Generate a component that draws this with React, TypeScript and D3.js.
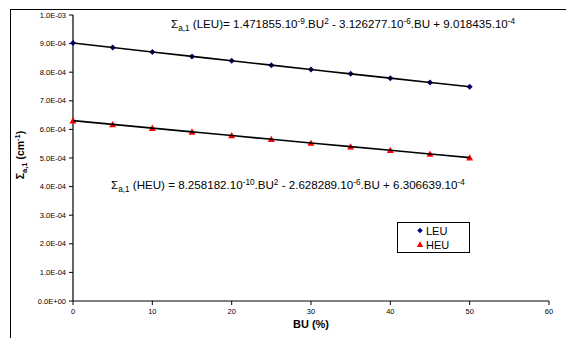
import React from "react";
import * as d3 from "d3";

const BU = [0, 5, 10, 15, 20, 25, 30, 35, 40, 45, 50];
const LEU = [9.0184e-4, 8.8625e-4, 8.7073e-4, 8.5528e-4, 8.3991e-4, 8.2461e-4, 8.0938e-4, 7.9423e-4, 7.7915e-4, 7.6414e-4, 7.4921e-4];
const HEU = [6.3066e-4, 6.1754e-4, 6.0446e-4, 5.9143e-4, 5.7843e-4, 5.6547e-4, 5.5256e-4, 5.3969e-4, 5.2685e-4, 5.1406e-4, 5.0131e-4];
const X_TICKS = [0, 10, 20, 30, 40, 50, 60];
const Y_TICKS = [0, 1e-4, 2e-4, 3e-4, 4e-4, 5e-4, 6e-4, 7e-4, 8e-4, 9e-4, 1e-3];
const Y_TICK_LABELS = ["0.0E+00", "1.0E-04", "2.0E-04", "3.0E-04", "4.0E-04", "5.0E-04", "6.0E-04", "7.0E-04", "8.0E-04", "9.0E-04", "1.0E-03"];
const SERIES_NAMES = ["LEU", "HEU"];

const FONT = "'Liberation Sans', Arial, sans-serif";

export default function App() {
  const W = 566, H = 338;
  const x = d3.scaleLinear().domain([0, 60]).range([73, 549]);
  const y = d3.scaleLinear().domain([0, 1e-3]).range([301, 15]);
  const line = d3.line<number>().x((_, i) => x(BU[i])).y((d) => y(d)).curve(d3.curveMonotoneX);
  const diamond = (cx: number, cy: number, r = 3) => `M${cx},${cy - r}L${cx + r},${cy}L${cx},${cy + r}L${cx - r},${cy}Z`;
  const tri = (cx: number, cy: number, r = 3.5) => `M${cx},${cy - r}L${cx + r},${cy + r * 0.8}L${cx - r},${cy + r * 0.8}Z`;
  const EF = 11.6, SF = 8.2;

  return (
    <svg width={W} height={H} style={{ position: "absolute", left: 0, top: 0 }} fontFamily={FONT}>
      <rect x={0} y={0} width={W} height={H} fill="#fff" />
      <rect x={10.5} y={9.5} width={W + 10} height={H + 10} fill="none" stroke="#000" strokeWidth={1} />
      {/* axes */}
      <line x1={x(0)} x2={x(0)} y1={y(1e-3)} y2={y(0)} stroke="#000" strokeWidth={1.2} />
      <line x1={x(0)} x2={x(60)} y1={y(0)} y2={y(0)} stroke="#000" strokeWidth={1.2} />
      {Y_TICKS.map((t, i) => (
        <g key={"y" + i}>
          <line x1={x(0) - 4} x2={x(0)} y1={y(t)} y2={y(t)} stroke="#000" />
          <text x={66} y={y(t)} dy="0.35em" fontSize={7.5} textAnchor="end" fill="#000">{Y_TICK_LABELS[i]}</text>
        </g>
      ))}
      {X_TICKS.map((t) => (
        <g key={"x" + t}>
          <line x1={x(t)} x2={x(t)} y1={y(0)} y2={y(0) + 4} stroke="#000" />
          <text x={x(t)} y={314} fontSize={7.5} textAnchor="middle" fill="#000">{t}</text>
        </g>
      ))}
      {/* markers */}
      {LEU.map((v, i) => <path key={"l" + i} d={diamond(x(BU[i]), y(v))} fill="#000080" />)}
      {HEU.map((v, i) => <path key={"h" + i} d={tri(x(BU[i]), y(v))} fill="#ff0000" />)}
      {/* trend lines */}
      <path d={line(LEU) || ""} fill="none" stroke="#000" strokeWidth={1.6} />
      <path d={line(HEU) || ""} fill="none" stroke="#000" strokeWidth={1.6} />
      {/* equations */}
      <text x={171} y={28} fontSize={EF} fill="#000">
        Σ<tspan fontSize={SF} dy={3}>a,1</tspan><tspan dy={-3}> (LEU)= 1.471855.10</tspan><tspan fontSize={SF} dy={-4.5}>-9</tspan><tspan dy={4.5}>.BU</tspan><tspan fontSize={SF} dy={-4.5}>2</tspan><tspan dy={4.5}> - 3.126277.10</tspan><tspan fontSize={SF} dy={-4.5}>-6</tspan><tspan dy={4.5}>.BU + 9.018435.10</tspan><tspan fontSize={SF} dy={-4.5}>-4</tspan>
      </text>
      <text x={111} y={189} fontSize={EF} fill="#000">
        Σ<tspan fontSize={SF} dy={3}>a,1</tspan><tspan dy={-3}> (HEU) = 8.258182.10</tspan><tspan fontSize={SF} dy={-4.5}>-10</tspan><tspan dy={4.5}>.BU</tspan><tspan fontSize={SF} dy={-4.5}>2</tspan><tspan dy={4.5}> - 2.628289.10</tspan><tspan fontSize={SF} dy={-4.5}>-6</tspan><tspan dy={4.5}>.BU + 6.306639.10</tspan><tspan fontSize={SF} dy={-4.5}>-4</tspan>
      </text>
      {/* axis titles */}
      <text x={311} y={328} fontSize={11} fontWeight="bold" textAnchor="middle" fill="#000">BU (%)</text>
      <text transform="translate(24,155) rotate(-90)" fontSize={10.5} fontWeight="bold" textAnchor="middle" fill="#000">
        Σ<tspan fontSize={7.5} dy={3}>a,1</tspan><tspan dy={-3}> (cm</tspan><tspan fontSize={7.5} dy={-4}>-1</tspan><tspan dy={4}>)</tspan>
      </text>
      {/* legend */}
      <rect x={397.5} y={222.5} width={72} height={30} fill="#fff" stroke="#000" strokeWidth={1} />
      <path d={diamond(420, 230.5, 2.8)} fill="#000080" />
      <text x={426} y={234.5} fontSize={11} fill="#000">{SERIES_NAMES[0]}</text>
      <path d={tri(420, 244.5, 3.2)} fill="#ff0000" />
      <text x={426} y={248.5} fontSize={11} fill="#000">{SERIES_NAMES[1]}</text>
    </svg>
  );
}
